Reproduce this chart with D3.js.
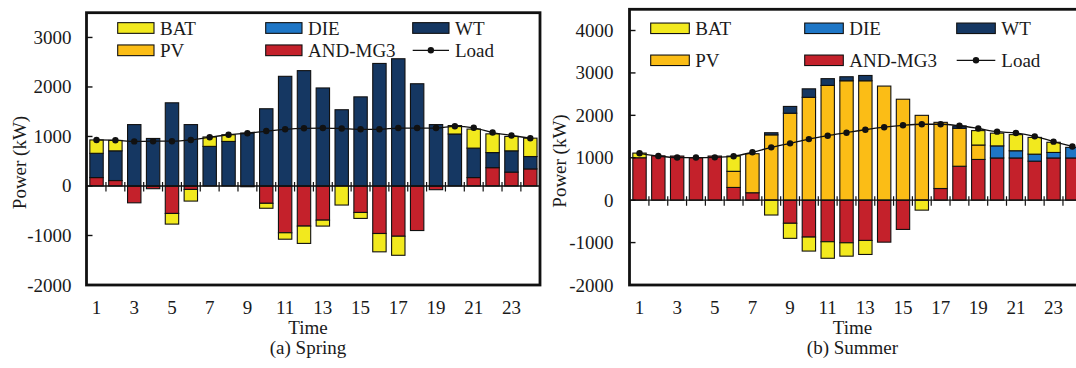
<!DOCTYPE html>
<html>
<head>
<meta charset="utf-8">
<script src="https://cdn.jsdelivr.net/npm/d3@7/dist/d3.min.js"></script>
<style>
  html, body { margin: 0; padding: 0; background: #fff; }
  svg { display: block; }
  svg text { font-family: "Liberation Serif", "Times New Roman", "DejaVu Serif", serif; }
</style>
</head>
<body>
<svg id="chart" width="1076" height="368"></svg>
<script>
// ---------- data ----------
const hours = d3.range(1, 25);
const xTickLabels = [1, 3, 5, 7, 9, 11, 13, 15, 17, 19, 21, 23];
const seriesKeys = ["AND-MG3", "PV", "DIE", "WT", "BAT"];
const legendOrder = ["BAT", "DIE", "WT", "PV", "AND-MG3", "Load"];
const colors = { "BAT": "#f2e91e", "PV": "#fbbd16", "DIE": "#1e76c6", "WT": "#153762", "AND-MG3": "#c4212b" };

// Spring
const springAND = [170, 110, -340, -55, -555, -70, 0, 0, -15, -350, -945, -810, -690, 0, -535, -960, -1015, -900, -75, 0, 170, 370, 280, 345];
const springPV  = [0, 0, 0, 0, 0, 0, 0, 0, 0, 0, 0, 0, 0, 0, 0, 0, 0, 0, 0, 0, 0, 0, 0, 0];
const springDIE = [0, 0, 0, 0, 0, 0, 0, 0, 0, 0, 0, 0, 0, 0, 0, 0, 0, 0, 0, 0, 0, 0, 0, 0];
const springWT  = [490, 600, 1240, 960, 1680, 1240, 800, 900, 1070, 1560, 2215, 2330, 1980, 1540, 1800, 2475, 2570, 2065, 1240, 1050, 595, 305, 430, 250];
const springBAT = [270, 210, 0, 0, -215, -235, 190, 135, 0, -100, -130, -350, -120, -385, -120, -370, -385, 0, 0, 170, 385, 378, 291, 371];
const springLoad = [930, 925, 900, 905, 905, 930, 985, 1035, 1065, 1110, 1145, 1165, 1170, 1160, 1145, 1145, 1170, 1170, 1170, 1205, 1175, 1080, 1020, 965];

// Summer
const summerAND = [1000, 1045, 1040, 1000, 1040, 300, 175, 0, -545, -870, -980, -1005, -950, -990, -690, 0, 275, 800, 960, 995, 995, 920, 995, 995];
const summerPV  = [0, 0, 0, 0, 0, 380, 920, 1540, 2050, 2425, 2705, 2815, 2815, 2690, 2380, 2000, 1560, 895, 340, 0, 0, 0, 0, 0];
const summerDIE = [0, 0, 0, 0, 0, 0, 0, 0, 0, 0, 0, 0, 0, 0, 0, 0, 0, 0, 0, 285, 170, 165, 130, 250];
const summerWT  = [0, 0, 0, 0, 0, 0, 0, 50, 160, 200, 160, 95, 125, 0, 0, 0, 0, 55, 0, 0, 0, 0, 0, 0];
const summerBAT = [110, 0, 0, 0, 0, 360, 0, -350, -355, -330, -390, -315, -330, 0, 0, -235, 0, 0, 340, 300, 380, 395, 240, 0];
const summerLoad = [1105, 1040, 1005, 1005, 1010, 1036, 1130, 1245, 1340, 1440, 1520, 1590, 1660, 1720, 1765, 1790, 1790, 1755, 1690, 1615, 1585, 1505, 1380, 1265];

const springYTicks = [-2000, -1000, 0, 1000, 2000, 3000];
const summerYTicks = [-2000, -1000, 0, 1000, 2000, 3000, 4000];

// ---------- drawing ----------
const svg = d3.select("#chart");
const textColor = "#1a1a1a";

function buildRows(a, pv, die, wt, bat) {
  return hours.map((h, i) => ({ hour: h, "AND-MG3": a[i], "PV": pv[i], "DIE": die[i], "WT": wt[i], "BAT": bat[i] }));
}

function drawPanel(cfg) {
  const g = svg.append("g");
  const x = d3.scaleBand().domain(hours).range([cfg.left + 0.6, cfg.left + 0.6 + 24 * cfg.step]).paddingInner(0.29).paddingOuter(0.145);
  const y = d3.scaleLinear().domain(cfg.yDomain).range([cfg.bottom, cfg.top]);

  const rows = buildRows(...cfg.series);
  const stacked = d3.stack().keys(seriesKeys).offset(d3.stackOffsetDiverging)(rows);

  const clipId = "clip-" + cfg.id;
  svg.append("defs").append("clipPath").attr("id", clipId)
    .append("rect").attr("x", cfg.left).attr("y", cfg.top).attr("width", cfg.right - cfg.left).attr("height", cfg.bottom - cfg.top);

  const plot = g.append("g").attr("clip-path", `url(#${clipId})`);

  // bars
  stacked.forEach(layer => {
    plot.append("g").selectAll("rect")
      .data(layer.filter(d => d[1] - d[0] !== 0))
      .join("rect")
      .attr("x", d => x(d.data.hour))
      .attr("width", x.bandwidth())
      .attr("y", d => y(Math.max(d[0], d[1])))
      .attr("height", d => Math.abs(y(d[0]) - y(d[1])))
      .attr("fill", colors[layer.key])
      .attr("stroke", "#111")
      .attr("stroke-width", 1.1);
  });

  // zero axis line + ticks between bands
  const zx = y(0);
  plot.append("line").attr("x1", cfg.left).attr("x2", cfg.right).attr("y1", zx).attr("y2", zx)
    .attr("stroke", "#111").attr("stroke-width", 1.4);
  const boundaries = hours.slice(1).map(h => x(h) - x.step() * x.paddingInner() / 2);
  plot.append("g").selectAll("line").data(boundaries).join("line")
    .attr("x1", d => d).attr("x2", d => d)
    .attr("y1", zx - 4).attr("y2", zx + 5.5)
    .attr("stroke", "#111").attr("stroke-width", 1.2);

  // load line
  const line = d3.line().x((d, i) => x(hours[i]) + x.bandwidth() / 2).y(d => y(d)).curve(d3.curveMonotoneX);
  plot.append("path").datum(cfg.load).attr("d", line)
    .attr("fill", "none").attr("stroke", "#111").attr("stroke-width", 1.3);
  plot.append("g").selectAll("circle").data(cfg.load).join("circle")
    .attr("cx", (d, i) => x(hours[i]) + x.bandwidth() / 2)
    .attr("cy", d => y(d)).attr("r", 3.2).attr("fill", "#111");

  // frame
  g.append("rect").attr("x", cfg.left).attr("y", cfg.top)
    .attr("width", cfg.right - cfg.left).attr("height", cfg.bottom - cfg.top)
    .attr("fill", "none").attr("stroke", "#111").attr("stroke-width", 2.8);

  // y axis ticks (inward) and labels
  const yAxis = g.append("g");
  yAxis.selectAll("line").data(cfg.yTicks).join("line")
    .attr("x1", cfg.left).attr("x2", cfg.left + 6)
    .attr("y1", d => y(d)).attr("y2", d => y(d))
    .attr("stroke", "#111").attr("stroke-width", 1.4);
  yAxis.selectAll("text").data(cfg.yTicks).join("text")
    .attr("x", cfg.labelRight).attr("y", d => y(d) + 6.5)
    .attr("text-anchor", "end").attr("font-size", 19).attr("fill", textColor)
    .text(d => d);

  // x tick labels
  g.append("g").selectAll("text").data(xTickLabels).join("text")
    .attr("x", d => x(d) + x.bandwidth() / 2).attr("y", 314)
    .attr("text-anchor", "middle").attr("font-size", 19).attr("fill", textColor)
    .text(d => d);

  // axis titles
  g.append("text").attr("transform", `translate(${cfg.yTitleX},${cfg.yTitleY}) rotate(-90)`)
    .attr("text-anchor", "middle").attr("dominant-baseline", "central")
    .attr("font-size", 19).attr("fill", textColor).text("Power (kW)");
  g.append("text").attr("x", cfg.titleX).attr("y", 334)
    .attr("text-anchor", "middle").attr("font-size", 19).attr("fill", textColor).text("Time");
  g.append("text").attr("x", cfg.titleX).attr("y", 354)
    .attr("text-anchor", "middle").attr("font-size", 19).attr("fill", textColor).text(cfg.caption);

  // legend
  const lg = g.append("g");
  legendOrder.forEach((key, i) => {
    const col = i % 3, row = Math.floor(i / 3);
    const lx = cfg.legendX[col], ly = cfg.legendY[row];
    if (key === "Load") {
      lg.append("line").attr("x1", lx).attr("x2", lx + cfg.swW).attr("y1", ly).attr("y2", ly)
        .attr("stroke", "#111").attr("stroke-width", 1.3);
      lg.append("circle").attr("cx", lx + cfg.swW / 2).attr("cy", ly).attr("r", 3.2).attr("fill", "#111");
    } else {
      lg.append("rect").attr("x", lx).attr("y", ly - cfg.swH / 2).attr("width", cfg.swW).attr("height", cfg.swH)
        .attr("fill", colors[key]).attr("stroke", "#111").attr("stroke-width", 1.1);
    }
    lg.append("text").attr("x", lx + cfg.swW + 6).attr("y", ly + 7)
      .attr("font-size", 19).attr("fill", textColor).text(key);
  });
}

drawPanel({
  id: "spring",
  left: 86.5, right: 540, top: 12.7, bottom: 285,
  step: 18.86,
  yDomain: [-2000, 3500], yTicks: springYTicks,
  series: [springAND, springPV, springDIE, springWT, springBAT],
  load: springLoad,
  labelRight: 71.5, yTitleX: 19.5, yTitleY: 162.5,
  titleX: 308, caption: "(a) Spring",
  legendX: [117.7, 265.7, 412.7], legendY: [28, 50.3], swW: 36.3, swH: 10.7
});

drawPanel({
  id: "summer",
  left: 629.5, right: 1090, top: 9.3, bottom: 285,
  step: 18.82,
  yDomain: [-2000, 4500], yTicks: summerYTicks,
  series: [summerAND, summerPV, summerDIE, summerWT, summerBAT],
  load: summerLoad,
  labelRight: 613.5, yTitleX: 559.5, yTitleY: 161,
  titleX: 852.5, caption: "(b) Summer",
  legendX: [650.7, 804.7, 956.7], legendY: [28.3, 60.3], swW: 38.6, swH: 10.5
});
</script>
</body>
</html>
